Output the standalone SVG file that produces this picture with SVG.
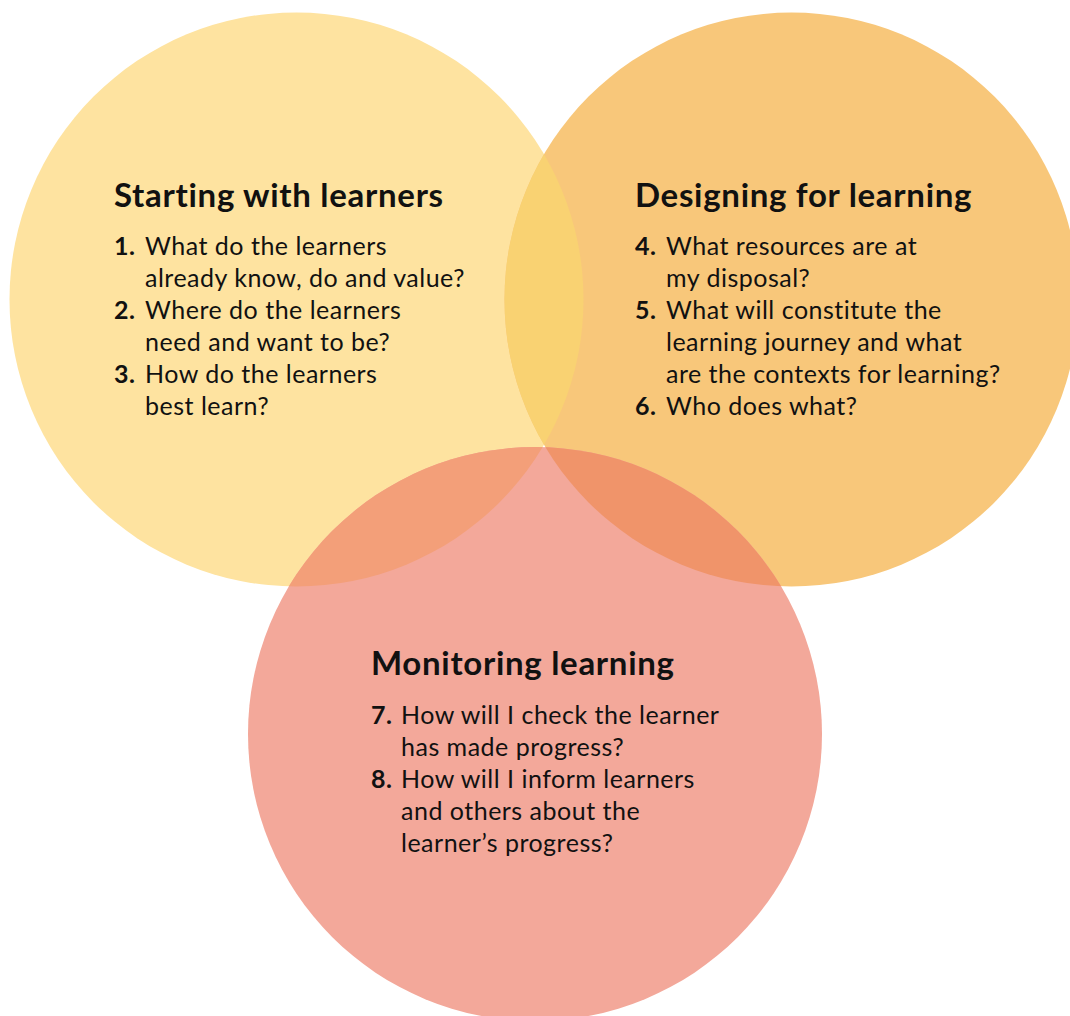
<svg xmlns="http://www.w3.org/2000/svg" width="1070" height="1016" viewBox="0 0 1070 1016">
<style>
.title{font-family:Lato,"Open Sans","Liberation Sans",sans-serif;font-weight:700;font-size:33px;letter-spacing:0.7px;fill:#111}
.body{font-family:Lato,"Open Sans","Liberation Sans",sans-serif;font-weight:400;font-size:25px;letter-spacing:0.5px;fill:#111}
.num{font-weight:700}
</style>
<defs>
<clipPath id="clipL"><circle cx="296.5" cy="299.5" r="287"/></clipPath>
<clipPath id="clipR"><circle cx="791.5" cy="299.5" r="287"/></clipPath>
</defs>
<rect width="1070" height="1016" fill="#ffffff"/>
<g id="shapes">
<circle cx="296.5" cy="299.5" r="287" fill="#FEE3A0"/>
<circle cx="791.5" cy="299.5" r="287" fill="#F8C77A"/>
<g clip-path="url(#clipL)"><circle cx="791.5" cy="299.5" r="287" fill="#F9D272"/></g>
<circle cx="535" cy="734" r="287" fill="#F3A89A"/>
<g clip-path="url(#clipL)"><circle cx="535" cy="734" r="287" fill="#F39F79"/></g>
<g clip-path="url(#clipR)"><circle cx="535" cy="734" r="287" fill="#F0946A"/></g>
<g clip-path="url(#clipL)"><g clip-path="url(#clipR)"><circle cx="535" cy="734" r="287" fill="#F2A79A"/></g></g>
</g>
<g id="node-starting">
<text class="title" x="114" y="207">Starting with learners</text>
<text class="body" x="114" y="255"><tspan class="num">1.</tspan></text>
<text class="body" x="145" y="255">What do the learners</text>
<text class="body" x="145" y="287">already know, do and value?</text>
<text class="body" x="114" y="319"><tspan class="num">2.</tspan></text>
<text class="body" x="145" y="319">Where do the learners</text>
<text class="body" x="145" y="351">need and want to be?</text>
<text class="body" x="114" y="383"><tspan class="num">3.</tspan></text>
<text class="body" x="145" y="383">How do the learners</text>
<text class="body" x="145" y="415">best learn?</text>
</g>
<g id="node-designing">
<text class="title" x="635" y="207">Designing for learning</text>
<text class="body" x="635" y="255"><tspan class="num">4.</tspan></text>
<text class="body" x="666" y="255">What resources are at</text>
<text class="body" x="666" y="287">my disposal?</text>
<text class="body" x="635" y="319"><tspan class="num">5.</tspan></text>
<text class="body" x="666" y="319">What will constitute the</text>
<text class="body" x="666" y="351">learning journey and what</text>
<text class="body" x="666" y="383">are the contexts for learning?</text>
<text class="body" x="635" y="415"><tspan class="num">6.</tspan></text>
<text class="body" x="666" y="415">Who does what?</text>
</g>
<g id="node-monitoring">
<text class="title" x="371" y="675">Monitoring learning</text>
<text class="body" x="371" y="724"><tspan class="num">7.</tspan></text>
<text class="body" x="401" y="724">How will I check the learner</text>
<text class="body" x="401" y="756">has made progress?</text>
<text class="body" x="371" y="788"><tspan class="num">8.</tspan></text>
<text class="body" x="401" y="788">How will I inform learners</text>
<text class="body" x="401" y="820">and others about the</text>
<text class="body" x="401" y="852">learner’s progress?</text>
</g>
<g id="connectors"></g>
</svg>
